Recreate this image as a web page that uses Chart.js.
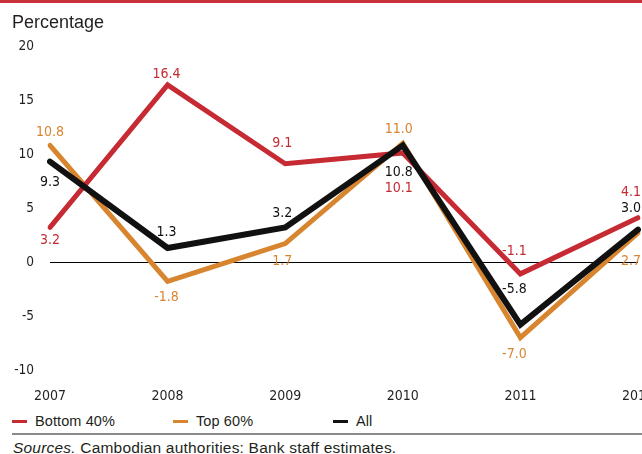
<!DOCTYPE html>
<html lang="en">
<head>
    <meta charset="UTF-8">
    <title>Cambodia consumption growth</title>
    <script src="https://cdn.jsdelivr.net/npm/chart.js"></script>
    <style>
        body {
            margin: 0;
            background: #fff;
        }
        #frame {
            position: relative;
            width: 642px;
            height: 454px;
            overflow: hidden;
            background: #fff;
            font-family: 'Liberation Sans', Arial, sans-serif;
            color: #231f20;
        }
        #top-bar {
            position: absolute;
            left: 0; top: 0;
            width: 642px; height: 3px;
            background: #c8313a;
        }
        #title {
            position: absolute;
            left: 12px; top: 12px;
            font-size: 18px;
        }
        #chart-box {
            position: absolute;
            left: 0; top: 0;
            width: 642px; height: 410px;
        }
        #legend {
            position: absolute;
            left: 12px; top: 412px;
            font-size: 14.5px;
            letter-spacing: 0.1px;
        }
        .legend-item {
            position: absolute;
            top: 0;
            white-space: nowrap;
            line-height: 18px;
        }
        .legend-item .swatch {
            display: inline-block;
            width: 15px;
            height: 3px;
            vertical-align: middle;
            margin-right: 8px;
            position: relative;
            top: -1px;
        }
        #rule {
            position: absolute;
            left: 12px; top: 433px;
            width: 630px; height: 2px;
            background: #8a8a8a;
        }
        #source {
            position: absolute;
            left: 13px; top: 439px;
            font-size: 15.5px;
            letter-spacing: 0.2px;
            white-space: nowrap;
        }
    </style>
</head>
<body>
    <div id="frame">
        <div id="top-bar"></div>
        <div id="chart-box"><canvas id="chart" width="642" height="410"></canvas></div>
        <div id="title">Percentage</div>
        <div id="legend"></div>
        <div id="rule"></div>
        <div id="source"><i>Sources.</i> Cambodian authorities: Bank staff estimates.</div>
    </div>

    <script>
        // Chart data
        const years = ['2007', '2008', '2009', '2010', '2011', '2012'];
        const bottom40 = [3.2, 16.4, 9.1, 10.1, -1.1, 4.1];
        const top60 = [10.8, -1.8, 1.7, 11.0, -7.0, 2.7];
        const allHouseholds = [9.3, 1.3, 3.2, 10.8, -5.8, 3.0];
        const yTicks = [-10, -5, 0, 5, 10, 15, 20];

        const seriesNames = ['Bottom 40%', 'Top 60%', 'All'];
        const seriesColors = ['#c62a33', '#d8852f', '#111111'];

        // label placement next to each point (pixels), kept apart from the data
        const labelDx = [0, -1, -3, -4, -6, -7];
        const labelDy = {
            bottom: [13, -11, -20, 35, -23, -25],
            top: [-13, 16, 18, -14, 17, 29],
            all: [21, -16, -14, 27, -35, -21]
        };

        const condensed = "'Liberation Sans Narrow', 'DejaVu Sans Condensed', 'Arial Narrow', sans-serif";

        // draws the value next to every point
        const valueLabels = {
            id: 'valueLabels',
            afterDatasetsDraw(chart) {
                const ctx = chart.ctx;
                ctx.save();
                ctx.font = '14px ' + condensed;
                ctx.textAlign = 'center';
                ctx.textBaseline = 'middle';
                chart.data.datasets.forEach((ds, i) => {
                    const meta = chart.getDatasetMeta(i);
                    ctx.fillStyle = ds.borderColor;
                    meta.data.forEach((pt, j) => {
                        const dy = labelDy[ds.labelKey][j];
                        ctx.fillText(ds.data[j].toFixed(1), pt.x + labelDx[j], pt.y + dy);
                    });
                });
                ctx.restore();
            }
        };

        function makeDataset(label, data, color, width, order, key) {
            return {
                label: label,
                data: data,
                borderColor: color,
                backgroundColor: color,
                borderWidth: width,
                borderCapStyle: 'round',
                borderJoinStyle: 'miter',
                pointRadius: 0,
                pointHoverRadius: 0,
                tension: 0,
                fill: false,
                order: order,
                labelKey: key
            };
        }

        const chart = new Chart(document.getElementById('chart').getContext('2d'), {
            type: 'line',
            data: {
                labels: years,
                datasets: [
                    makeDataset(seriesNames[0], bottom40, seriesColors[0], 5, 2, 'bottom'),
                    makeDataset(seriesNames[1], top60, seriesColors[1], 5, 3, 'top'),
                    makeDataset(seriesNames[2], allHouseholds, seriesColors[2], 6, 1, 'all')
                ]
            },
            options: {
                responsive: false,
                animation: false,
                devicePixelRatio: 1,
                layout: {
                    padding: { top: 46, right: 4, bottom: 0, left: 0 }
                },
                plugins: {
                    legend: { display: false },
                    tooltip: { enabled: false }
                },
                scales: {
                    x: {
                        grid: { display: false, drawTicks: false },
                        border: { display: false },
                        ticks: {
                            color: '#231f20',
                            font: { family: condensed, size: 14 },
                            padding: 18,
                            maxRotation: 0,
                            autoSkip: false
                        },
                        afterFit(scale) {
                            scale.height = 40;
                            scale.paddingLeft = 0;
                            scale.paddingRight = 0;
                        }
                    },
                    y: {
                        min: -10,
                        max: 20,
                        afterBuildTicks(scale) {
                            scale.ticks = yTicks.map(v => ({ value: v }));
                        },
                        grid: {
                            drawTicks: false,
                            lineWidth: 1,
                            color: c => (c.tick && c.tick.value === 0) ? '#000' : 'rgba(0,0,0,0)'
                        },
                        border: { display: false },
                        ticks: {
                            color: '#231f20',
                            font: { family: condensed, size: 13.5 },
                            padding: 16
                        },
                        afterFit(scale) {
                            scale.width = 50;
                            scale.paddingTop = 0;
                            scale.paddingBottom = 0;
                        }
                    }
                }
            },
            plugins: [valueLabels]
        });

        // HTML legend built from the datasets
        const legendEl = document.getElementById('legend');
        const legendX = [0, 161, 321];
        seriesNames.forEach((name, i) => {
            const item = document.createElement('div');
            item.className = 'legend-item';
            item.style.left = legendX[i] + 'px';
            const sw = document.createElement('span');
            sw.className = 'swatch';
            sw.style.background = seriesColors[i];
            item.appendChild(sw);
            item.appendChild(document.createTextNode(name));
            legendEl.appendChild(item);
        });
    </script>
</body>
</html>
